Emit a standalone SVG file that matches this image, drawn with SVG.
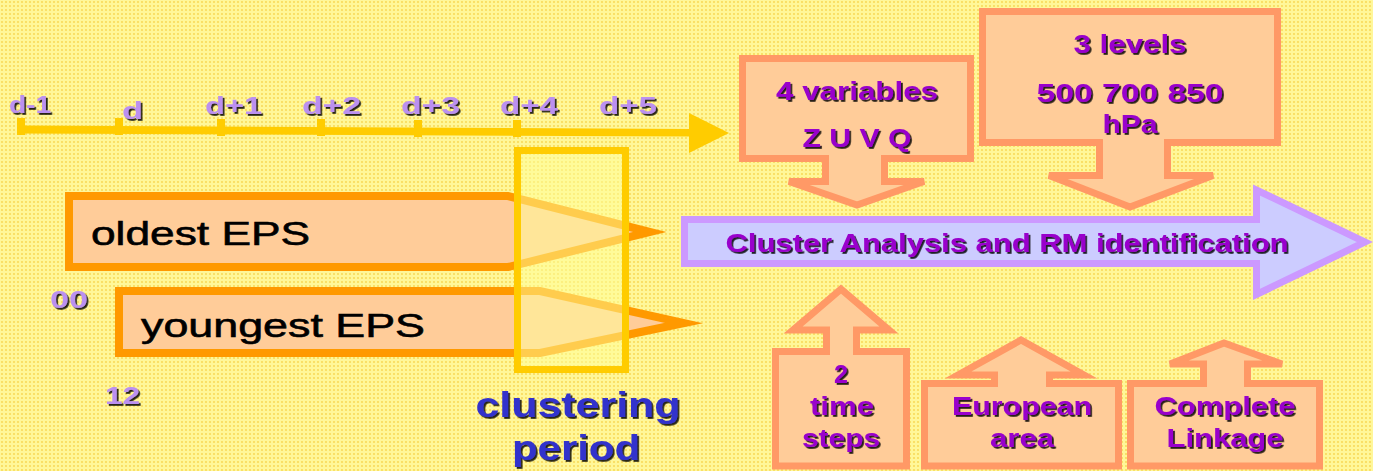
<svg xmlns="http://www.w3.org/2000/svg" width="1373" height="471" viewBox="0 0 1373 471">
<defs>
<pattern id="dots" width="4" height="4" patternUnits="userSpaceOnUse">
<rect width="4" height="4" fill="#FFF799"/>
<circle cx="2" cy="2" r="0.9" fill="#F7D54E"/>
</pattern>
<filter id="sh" x="-5%" y="-20%" width="115%" height="150%">
<feDropShadow dx="1.8" dy="1.8" stdDeviation="0.3" flood-color="#000" flood-opacity="0.85"/>
</filter>
<style>
.box{fill:#FFCC99;stroke:#FF9966;stroke-width:7;stroke-linejoin:miter}
.eps{fill:#FFCC99;stroke:#FF9900;stroke-width:8;stroke-linejoin:miter;stroke-miterlimit:10}
.pt{font-family:"Liberation Sans","DejaVu Sans",sans-serif;font-weight:bold;fill:#9900CC;filter:url(#sh);text-anchor:middle;font-size:25px}
.tl{font-family:"Liberation Sans","DejaVu Sans",sans-serif;font-weight:bold;fill:#BB90F0;filter:url(#sh);font-size:23px}
.blk{font-family:"Liberation Sans","DejaVu Sans",sans-serif;fill:#000;font-size:33px;stroke:#000;stroke-width:0.6}
.cp{font-family:"Liberation Sans","DejaVu Sans",sans-serif;font-weight:bold;fill:#3333CC;filter:url(#sh);font-size:35px;text-anchor:middle}
</style>
</defs>
<rect width="1373" height="471" fill="url(#dots)"/>

<g id="timeline">
<path d="M21,125.5 L691,129 L691,136.5 L21,133.5 Z" fill="#FFCC00"/>
<path d="M689,113 L729,133 L689,153 Z" fill="#FFCC00"/>
<g fill="#FFCC00">
<rect x="17" y="118" width="8" height="17"/>
<rect x="115" y="118" width="8" height="17"/>
<rect x="217" y="119" width="8" height="17"/>
<rect x="317" y="119" width="8" height="17"/>
<rect x="414" y="120" width="8" height="17"/>
<rect x="513" y="120" width="8" height="17"/>
</g>
<text class="tl" x="9" y="113" textLength="42" lengthAdjust="spacingAndGlyphs">d-1</text>
<text class="tl" x="122" y="119" font-size="27" textLength="21" lengthAdjust="spacingAndGlyphs">d</text>
<text class="tl" x="205" y="114" textLength="57" lengthAdjust="spacingAndGlyphs">d+1</text>
<text class="tl" x="302" y="114" textLength="59" lengthAdjust="spacingAndGlyphs">d+2</text>
<text class="tl" x="401" y="114" textLength="59" lengthAdjust="spacingAndGlyphs">d+3</text>
<text class="tl" x="500" y="114" textLength="58" lengthAdjust="spacingAndGlyphs">d+4</text>
<text class="tl" x="599" y="114" textLength="58" lengthAdjust="spacingAndGlyphs">d+5</text>
</g>

<g id="oldest">
<path class="eps" d="M69,196 L508,196 L650,232 L508,267 L69,267 Z"/>
<text class="blk" x="91" y="245" textLength="219" lengthAdjust="spacingAndGlyphs">oldest EPS</text>
</g>
<g id="youngest">
<path class="eps" d="M119,291 L540,291 L684,323 L540,353 L119,353 Z"/>
<text class="blk" x="141" y="337" textLength="284" lengthAdjust="spacingAndGlyphs">youngest EPS</text>
</g>
<text class="tl" x="50" y="308" font-size="22" textLength="38" lengthAdjust="spacingAndGlyphs">00</text>
<text class="tl" x="105" y="404" font-size="22" textLength="35" lengthAdjust="spacingAndGlyphs">12</text>

<g id="clustering-period">
<rect x="517.5" y="150.5" width="108" height="219" fill="#FFFF99" fill-opacity="0.5" stroke="#FFCC00" stroke-width="7"/>
<text class="cp" x="578" y="417" textLength="205" lengthAdjust="spacingAndGlyphs">clustering</text>
<text class="cp" x="576" y="460" textLength="128" lengthAdjust="spacingAndGlyphs">period</text>
</g>

<g id="variables">
<path class="box" d="M742.5,58.5 H970.5 V158.5 H884.5 V181.5 H924 L857,205 L789,181.5 H825.5 V158.5 H742.5 Z"/>
<text class="pt" x="857" y="100" textLength="162" lengthAdjust="spacingAndGlyphs">4 variables</text>
<text class="pt" x="857" y="147" textLength="109" lengthAdjust="spacingAndGlyphs">Z U V Q</text>
</g>

<g id="levels">
<path class="box" d="M982.5,11.5 H1277.5 V142.5 H1167.5 V175.5 H1213 L1130,207 L1049,175.5 H1099.5 V142.5 H982.5 Z"/>
<text class="pt" x="1130" y="53" textLength="113" lengthAdjust="spacingAndGlyphs">3 levels</text>
<text class="pt" x="1130" y="102" textLength="187" lengthAdjust="spacingAndGlyphs">500 700 850</text>
<text class="pt" x="1130" y="133" textLength="55" lengthAdjust="spacingAndGlyphs">hPa</text>
</g>

<g id="cluster-analysis">
<path d="M684.5,219.5 H1256.5 V190 L1365,242 L1256.5,294.5 V263.5 H684.5 Z" fill="#CCCCFF" stroke="#CC99FF" stroke-width="7" stroke-miterlimit="10"/>
<text class="pt" x="1007" y="252" font-size="26" textLength="563" lengthAdjust="spacingAndGlyphs">Cluster Analysis and RM identification</text>
</g>

<g id="time-steps">
<path class="box" d="M775.5,466 V351.5 H826.5 V330 H793 L841,289 L889,330 H856.5 V351.5 H906.5 V466 Z"/>
<text class="pt" x="841" y="383">2</text>
<text class="pt" x="842" y="415" textLength="64" lengthAdjust="spacingAndGlyphs">time</text>
<text class="pt" x="841" y="447" textLength="78" lengthAdjust="spacingAndGlyphs">steps</text>
</g>

<g id="european">
<path class="box" d="M924.5,466 V383.5 H994.5 V375 H958 L1021,340 L1084,375 H1049.5 V383.5 H1118.5 V466 Z"/>
<text class="pt" x="1022" y="415" textLength="140" lengthAdjust="spacingAndGlyphs">European</text>
<text class="pt" x="1022" y="447" textLength="64" lengthAdjust="spacingAndGlyphs">area</text>
</g>

<g id="complete">
<path class="box" d="M1130.5,466 V383.5 H1203.5 V364 H1170 L1224,343 L1282,364 H1247.5 V383.5 H1319.5 V466 Z"/>
<text class="pt" x="1225" y="415" textLength="141" lengthAdjust="spacingAndGlyphs">Complete</text>
<text class="pt" x="1225" y="447" textLength="117" lengthAdjust="spacingAndGlyphs">Linkage</text>
</g>
</svg>
